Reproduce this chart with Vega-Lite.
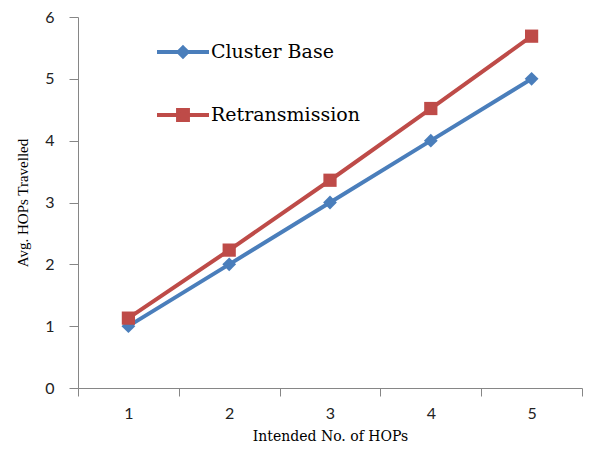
{
  "$schema": "https://vega.github.io/schema/vega-lite/v6.json",
  "width": 504,
  "height": 371,
  "autosize": {"type": "none"},
  "padding": {"left": 78, "top": 17, "right": 23, "bottom": 70},
  "background": "white",
  "config": {"view": {"stroke": null}},
  "data": {
    "values": [
      {"hops": "1", "series": "Cluster Base", "avg": 1.0},
      {"hops": "2", "series": "Cluster Base", "avg": 2.0},
      {"hops": "3", "series": "Cluster Base", "avg": 3.0},
      {"hops": "4", "series": "Cluster Base", "avg": 4.0},
      {"hops": "5", "series": "Cluster Base", "avg": 5.0},
      {"hops": "1", "series": "Retransmission", "avg": 1.13},
      {"hops": "2", "series": "Retransmission", "avg": 2.23},
      {"hops": "3", "series": "Retransmission", "avg": 3.36},
      {"hops": "4", "series": "Retransmission", "avg": 4.52},
      {"hops": "5", "series": "Retransmission", "avg": 5.69}
    ]
  },
  "encoding": {
    "x": {
      "field": "hops",
      "type": "ordinal",
      "scale": {"type": "band", "paddingInner": 0, "paddingOuter": 0},
      "axis": {
        "title": "Intended No. of HOPs",
        "titleFont": "DejaVu Serif",
        "titleFontSize": 14,
        "titleFontWeight": "normal",
        "titleColor": "#000000",
        "titlePadding": 8,
        "labelAngle": 0,
        "labelFont": "Lato",
        "labelFontSize": 16,
        "labelColor": "#222222",
        "labelPadding": 9,
        "tickBand": "extent",
        "tickSize": 8,
        "tickColor": "#868686",
        "domainColor": "#868686",
        "grid": false
      }
    },
    "y": {
      "field": "avg",
      "type": "quantitative",
      "scale": {"domain": [0, 6], "nice": false},
      "axis": {
        "title": "Avg. HOPs Travelled",
        "titleFont": "Liberation Serif",
        "titleFontSize": 15,
        "titleFontWeight": "normal",
        "titleColor": "#000000",
        "titlePadding": 14,
        "values": [0, 1, 2, 3, 4, 5, 6],
        "labelFont": "Lato",
        "labelFontSize": 16,
        "labelColor": "#222222",
        "labelPadding": 15,
        "tickSize": 9,
        "tickColor": "#868686",
        "domainColor": "#868686",
        "grid": false
      }
    }
  },
  "layer": [
    {
      "transform": [{"filter": "datum.series == 'Cluster Base'"}],
      "mark": {"type": "line", "strokeWidth": 4, "color": "#4A7EBB"},
      "encoding": {}
    },
    {
      "transform": [{"filter": "datum.series == 'Retransmission'"}],
      "mark": {"type": "line", "strokeWidth": 4, "color": "#BE4B48"},
      "encoding": {}
    },
    {
      "transform": [{"filter": "datum.series == 'Cluster Base'"}],
      "mark": {"type": "point", "filled": true, "opacity": 1, "shape": "diamond", "size": 190, "color": "#4A7EBB"},
      "encoding": {}
    },
    {
      "transform": [{"filter": "datum.series == 'Retransmission'"}],
      "mark": {"type": "point", "filled": true, "opacity": 1, "shape": "square", "size": 175, "color": "#BE4B48"},
      "encoding": {}
    },
    {
      "mark": {"type": "point", "filled": true, "opacity": 0, "strokeWidth": 4},
      "encoding": {
        "fill": {
          "field": "series",
          "type": "nominal",
          "scale": {"domain": ["Cluster Base", "Retransmission"], "range": ["#4A7EBB", "#BE4B48"]},
          "legend": {
            "title": null,
            "orient": "none",
            "legendX": 77,
            "legendY": 7,
            "padding": 0,
            "direction": "vertical",
            "symbolSize": 2704,
            "symbolStrokeWidth": 4,
            "symbolOpacity": 1,
            "rowPadding": 22,
            "labelFont": "DejaVu Serif",
            "labelFontSize": 19,
            "labelColor": "#000000",
            "labelOffset": 0,
            "labelLimit": 300
          }
        },
        "stroke": {
          "field": "series",
          "type": "nominal",
          "scale": {"domain": ["Cluster Base", "Retransmission"], "range": ["#4A7EBB", "#BE4B48"]},
          "legend": {
            "title": null,
            "orient": "none",
            "legendX": 77,
            "legendY": 7,
            "padding": 0,
            "direction": "vertical",
            "symbolSize": 2704,
            "symbolStrokeWidth": 4,
            "symbolOpacity": 1,
            "rowPadding": 22,
            "labelFont": "DejaVu Serif",
            "labelFontSize": 19,
            "labelColor": "#000000",
            "labelOffset": 0,
            "labelLimit": 300
          }
        },
        "shape": {
          "field": "series",
          "type": "nominal",
          "scale": {"domain": ["Cluster Base", "Retransmission"], "range": ["M-1,0H1M0,-0.17L0.17,0L0,0.17L-0.17,0Z", "M-1,0H1M-0.19,-0.19H0.19V0.19H-0.19Z"]},
          "legend": {
            "title": null,
            "orient": "none",
            "legendX": 77,
            "legendY": 7,
            "padding": 0,
            "direction": "vertical",
            "symbolSize": 2704,
            "symbolStrokeWidth": 4,
            "symbolOpacity": 1,
            "rowPadding": 22,
            "labelFont": "DejaVu Serif",
            "labelFontSize": 19,
            "labelColor": "#000000",
            "labelOffset": 0,
            "labelLimit": 300
          }
        }
      }
    }
  ]
}
